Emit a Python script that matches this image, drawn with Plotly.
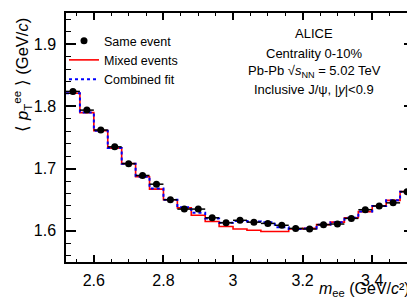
import plotly.graph_objects as go

# ---- data ----
bin_width = 0.04
mass_centers = [2.54, 2.58, 2.62, 2.66, 2.70, 2.74, 2.78, 2.82, 2.86, 2.90,
                2.94, 2.98, 3.02, 3.06, 3.10, 3.14, 3.18, 3.22, 3.26, 3.30,
                3.34, 3.38, 3.42, 3.46, 3.50]
same_event = [1.824, 1.794, 1.762, 1.735, 1.708, 1.689, 1.675, 1.650, 1.635, 1.635,
              1.621, 1.613, 1.617, 1.614, 1.612, 1.609, 1.604, 1.603, 1.610, 1.611,
              1.620, 1.634, 1.640, 1.645, 1.663]
same_event_err = [0.002, 0.002, 0.002, 0.002, 0.002, 0.002, 0.002, 0.002, 0.002, 0.002,
                  0.002, 0.002, 0.002, 0.002, 0.002, 0.002, 0.002, 0.002, 0.002, 0.002,
                  0.002, 0.003, 0.003, 0.003, 0.004]
mixed_events = [1.821, 1.790, 1.761, 1.733, 1.708, 1.687, 1.667, 1.650, 1.637, 1.625,
                1.615, 1.607, 1.603, 1.601, 1.599, 1.599, 1.603, 1.604, 1.610, 1.614,
                1.621, 1.631, 1.640, 1.649, 1.663]
combined_fit = [1.821, 1.790, 1.761, 1.733, 1.708, 1.687, 1.668, 1.650, 1.638, 1.629,
                1.620, 1.613, 1.616, 1.615, 1.614, 1.606, 1.603, 1.604, 1.610, 1.614,
                1.621, 1.631, 1.640, 1.649, 1.663]
x_tick_vals = [2.6, 2.8, 3.0, 3.2, 3.4]
y_tick_vals = [1.6, 1.7, 1.8, 1.9]

# histogram step representation built from bin centres
edges = [c - bin_width / 2 for c in mass_centers] + [mass_centers[-1] + bin_width / 2]
def steps(vals):
    return vals + [vals[-1]]

FONT = "Liberation Sans, Arial, Helvetica, sans-serif"

fig = go.Figure()
fig.add_trace(go.Scatter(
    x=edges, y=steps(mixed_events), mode="lines", line_shape="hv",
    line=dict(color="#ff0000", width=1.6), name="Mixed events", legendrank=2))
fig.add_trace(go.Scatter(
    x=edges, y=steps(combined_fit), mode="lines", line_shape="hv",
    line=dict(color="#0000ff", width=2, dash="dot"), name="Combined fit", legendrank=3))
fig.add_trace(go.Scatter(
    x=mass_centers, y=same_event, mode="markers", name="Same event", legendrank=1,
    marker=dict(color="black", size=7),
    error_x=dict(type="constant", value=bin_width / 2, color="black", thickness=1.5, width=0),
    error_y=dict(type="data", array=same_event_err, color="black", thickness=1.5, width=0)))

axis_common = dict(
    showline=True, linecolor="black", linewidth=1.5, mirror="allticks",
    ticks="inside", tickcolor="black", tickwidth=1.5,
    showgrid=False, zeroline=False, automargin=False,
    tickfont=dict(family=FONT, size=16, color="black"),
)
fig.update_xaxes(range=[2.52, 3.52], tickvals=x_tick_vals, ticklen=7,
                 ticklabelstandoff=3,
                 minor=dict(ticks="inside", dtick=0.05, tick0=0, ticklen=3.5,
                            tickwidth=1.3, tickcolor="black"),
                 **axis_common)
fig.update_yaxes(range=[1.55, 1.95], tickvals=y_tick_vals, ticklen=10,
                 minor=dict(ticks="inside", dtick=0.02, tick0=0, ticklen=5,
                            tickwidth=1.3, tickcolor="black"),
                 ticklabelstandoff=5,
                 **axis_common)

annotations = [
    dict(text="⟨ <i>p</i><sub>T</sub><sup>ee</sup> ⟩ (GeV/<i>c</i>)", textangle=-90,
         xref="paper", yref="paper", x=-0.125, y=(254 - 8) / 249, xanchor="center", yanchor="top",
         showarrow=False, font=dict(family=FONT, size=16.5, color="black")),
    dict(text="<i>m</i><sub>ee</sub> (GeV/<i>c</i>²)",
         xref="paper", yref="paper", x=1.0, y=(254 - 281) / 249, xanchor="right", yanchor="middle",
         xshift=-2, showarrow=False, font=dict(family=FONT, size=16, color="black")),
]
info_lines = ["ALICE", "Centrality 0-10%",
              "Pb-Pb √<i>s</i><sub>NN</sub> = 5.02 TeV",
              "Inclusive J/ψ, |<i>y</i>|&lt;0.9"]
info_y = [25, 45, 64, 82]
for t, yp in zip(info_lines, info_y):
    annotations.append(dict(text=t, xref="paper", yref="paper",
                            x=(306 - 58) / 348, y=(254 - yp) / 249,
                            xanchor="center", yanchor="middle", showarrow=False,
                            font=dict(family=FONT, size=13, color="black")))

fig.update_layout(
    width=415, height=299,
    margin=dict(l=58, r=9, t=5, b=45, autoexpand=False),
    plot_bgcolor="white", paper_bgcolor="white",
    annotations=annotations,
    showlegend=True,
    legend=dict(x=(56 - 58) / 348, y=(254 - 18) / 249, xanchor="left", yanchor="top",
                bgcolor="rgba(0,0,0,0)", borderwidth=0, traceorder="normal",
                font=dict(family=FONT, size=12.5, color="black"),
                itemwidth=30, tracegroupgap=0),
)

fig.write_html("out.html")
